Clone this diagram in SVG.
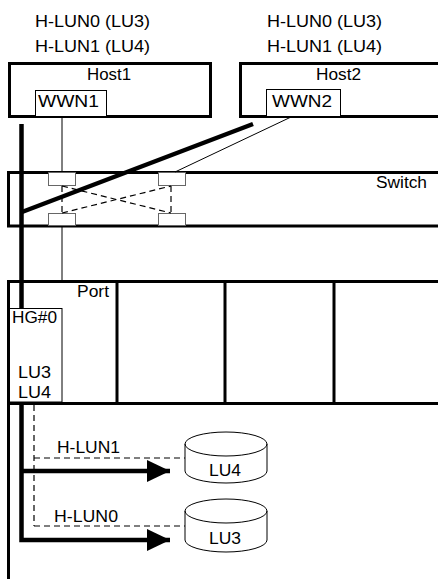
<svg xmlns="http://www.w3.org/2000/svg" width="438" height="579" viewBox="0 0 438 579">
<style>
text{font-family:"Liberation Sans",Arial,sans-serif;font-size:16px;fill:#000}
.thick{fill:none;stroke:#000;stroke-width:3}
.box{fill:#fff;stroke:#000;stroke-width:1}
.pt{fill:#fff;stroke:#666;stroke-width:1}
.thin{fill:none;stroke:#000;stroke-width:1}
.dash{fill:none;stroke:#000;stroke-width:1.2;stroke-dasharray:6,4}
.bold{fill:none;stroke:#000;stroke-width:4.5}
.cyl{fill:#fff;stroke:#000;stroke-width:1}
</style>
<defs>
<marker id="ah" markerUnits="userSpaceOnUse" markerWidth="24" markerHeight="23" refX="23" refY="11" orient="auto">
<path d="M0,0 L23,11 L0,22 Z" fill="#000"/>
</marker>
</defs>
<g id="labels-left">
<text x="35" y="27" textLength="115" lengthAdjust="spacingAndGlyphs">H-LUN0 (LU3)</text>
<text x="35" y="52" textLength="115" lengthAdjust="spacingAndGlyphs">H-LUN1 (LU4)</text>
</g>
<g id="labels-right">
<text x="267" y="27" textLength="115" lengthAdjust="spacingAndGlyphs">H-LUN0 (LU3)</text>
<text x="267" y="52" textLength="115" lengthAdjust="spacingAndGlyphs">H-LUN1 (LU4)</text>
</g>
<g id="host1">
<rect class="thick" x="9.5" y="63.5" width="201" height="53" fill="#fff"/>
<text x="87" y="80" textLength="44" lengthAdjust="spacingAndGlyphs">Host1</text>
<rect class="box" x="35.5" y="90.5" width="71" height="26"/>
<text x="38" y="107" textLength="61" lengthAdjust="spacingAndGlyphs">WWN1</text>
</g>
<g id="host2">
<rect class="thick" x="240.5" y="63.5" width="220" height="53" fill="#fff"/>
<text x="316" y="80" textLength="45" lengthAdjust="spacingAndGlyphs">Host2</text>
<rect class="box" x="266.5" y="89.5" width="74" height="27"/>
<text x="272" y="107" textLength="60" lengthAdjust="spacingAndGlyphs">WWN2</text>
</g>
<g id="switch">
<rect class="thick" x="8.5" y="172.5" width="460" height="53.5"/>
<text x="376" y="188" textLength="51" lengthAdjust="spacingAndGlyphs">Switch</text>
<rect class="pt" x="48.5" y="172.5" width="27" height="13"/>
<rect class="pt" x="158.5" y="172.5" width="27" height="13"/>
<rect class="pt" x="48.5" y="213.5" width="27" height="12"/>
<rect class="pt" x="158.5" y="213.5" width="27" height="12"/>
</g>
<g id="storage">
<path class="thick" d="M438,281.5 H8.5 V579"/>
<path class="thick" d="M7,403.5 H438 M117,281 V403 M225,281 V403 M334,281 V403"/>
<text x="77" y="297" textLength="32" lengthAdjust="spacingAndGlyphs">Port</text>
</g>
<g id="hg0">
<rect class="box" x="9.5" y="308.5" width="52.5" height="93.5"/>
<text x="12" y="323" textLength="45" lengthAdjust="spacingAndGlyphs">HG#0</text>
<text x="18" y="378" textLength="33" lengthAdjust="spacingAndGlyphs">LU3</text>
<text x="18" y="398" textLength="33" lengthAdjust="spacingAndGlyphs">LU4</text>
</g>
<g id="lu4">
<path class="cyl" d="M185,444 A41,12 0 0 1 267,444 V471 A41,12 0 0 1 185,471 Z"/>
<path class="thin" d="M185,444 A41,12 0 0 0 267,444"/>
<text x="209" y="476" textLength="32" lengthAdjust="spacingAndGlyphs">LU4</text>
</g>
<g id="lu3">
<path class="cyl" d="M185,511 A41,12 0 0 1 267,511 V540 A41,12 0 0 1 185,540 Z"/>
<path class="thin" d="M185,511 A41,12 0 0 0 267,511"/>
<text x="209" y="544" textLength="32" lengthAdjust="spacingAndGlyphs">LU3</text>
</g>
<g id="connectors">
<path class="thin" d="M62,117 V172 M62,226 V281"/>
<path class="thin" d="M290,117.5 L175,172"/>
<path class="dash" d="M62,186 V213 M171,186 V213 M62,186 L171,213 M62,213 L171,186"/>
<path class="bold" d="M253,124 L22,212" stroke-width="4"/>
<path class="bold" d="M21.5,124 V308"/>
<path class="bold" d="M21.5,403 V540 H170" marker-end="url(#ah)"/>
<path class="bold" d="M21.5,471 H170" marker-end="url(#ah)"/>
<path class="dash" d="M34,405 V526 M34,458 H185 M34,526 H185"/>
<text x="57" y="453" textLength="63" lengthAdjust="spacingAndGlyphs">H-LUN1</text>
<text x="54" y="522" textLength="64" lengthAdjust="spacingAndGlyphs">H-LUN0</text>
</g>
</svg>
